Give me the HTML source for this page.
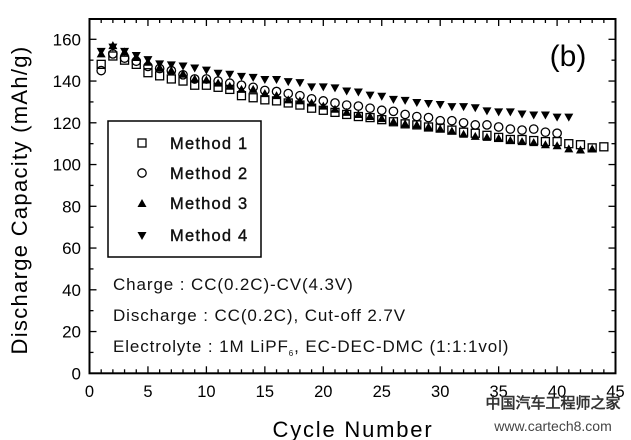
<!DOCTYPE html><html><head><style>body{margin:0;background:#fff}svg{display:block}text{font-family:"Liberation Sans",Arial,sans-serif}</style></head><body>
<svg id="s" width="631" height="440" xmlns="http://www.w3.org/2000/svg">
<rect x="89.5" y="19" width="526" height="354.3" fill="none" stroke="#000" stroke-width="2"/>
<g id="t"></g><g id="d"></g>
<rect x="108" y="121" width="153" height="136" fill="#fff" stroke="#000" stroke-width="1.5"/>
<rect x="138" y="139" width="8" height="8" fill="none" stroke="#000" stroke-width="1.3"/>
<circle cx="142" cy="173" r="4.2" fill="none" stroke="#000" stroke-width="1.3"/>
<path d="M142 199 L146.5 207 L137.5 207Z" fill="#000"/>
<path d="M142 240 L146.5 232 L137.5 232Z" fill="#000"/>
<g font-size="16.5" fill="#111" stroke="#111" stroke-width="0.4" letter-spacing="1.2">
<text x="170" y="149">Method 1</text><text x="170" y="179">Method 2</text><text x="170" y="209">Method 3</text><text x="170" y="241">Method 4</text></g>
<g font-size="17" fill="#111" letter-spacing="0.9">
<text x="113" y="290">Charge : CC(0.2C)-CV(4.3V)</text>
<text x="113" y="321">Discharge : CC(0.2C), Cut-off 2.7V</text>
<text x="113" y="352">Electrolyte : 1M LiPF<tspan font-size="8" dy="4">6</tspan><tspan dy="-4">, EC-DEC-DMC (1:1:1vol)</tspan></text></g>
<text x="568" y="66" font-family="Liberation Serif" font-size="30" text-anchor="middle">(b)</text>
<text transform="translate(27,200) rotate(-90)" font-size="22" text-anchor="middle" letter-spacing="1.3">Discharge Capacity (mAh/g)</text>
<text x="353" y="437" font-size="22" text-anchor="middle" letter-spacing="1.8">Cycle Number</text>
<text x="553" y="408" font-family="Noto Serif CJK SC,serif" font-size="15" fill="#333" text-anchor="middle" font-weight="bold">中国汽车工程师之家</text>
<text x="553" y="431" font-family="Liberation Mono" font-size="14" fill="#444" text-anchor="middle">www.cartech8.com</text>
</svg>
<script>
var X=v=>89.5+v*11.69,Y=v=>373.3-v*2.0875,t='',d='';
for(var i=0;i<=45;i++){var L=i%5?4:7;t+=`<line x1="${X(i)}" x2="${X(i)}" y1="373.3" y2="${373.3-L}" stroke="#000" stroke-width="1.3"/><line x1="${X(i)}" x2="${X(i)}" y1="19" y2="${19+L}" stroke="#000" stroke-width="1.3"/>`;if(i%5==0)t+=`<text x="${X(i)}" y="397" font-size="16.5" text-anchor="middle">${i}</text>`;}
for(var v=0;v<=160;v+=10){var L=v%20?4:7;t+=`<line x1="89.5" x2="${89.5+L}" y1="${Y(v)}" y2="${Y(v)}" stroke="#000" stroke-width="1.3"/><line x1="615.5" x2="${615.5-L}" y1="${Y(v)}" y2="${Y(v)}" stroke="#000" stroke-width="1.3"/>`;if(v%20==0)t+=`<text x="81" y="${Y(v)+6}" font-size="17" text-anchor="end">${v}</text>`;}
var m1=[148,152,150,148,144,142.5,141,140,138,138,137,136,133,132,131,130.5,129.5,128.5,127,126,125,124,123,122.5,121.5,120.5,119.5,119,118,117.5,116.5,115.5,115,114,113,112,112,111.5,111,111,110,109.5,108,108.5];
var m2=[145,153,151,149.5,147,146,145,143,141,141,140,139,138,137,135.5,135,134,133,131.5,130.5,129.5,128.5,128,127,126,125.5,124,123,122.5,121,121,120,119,119,118,117,116.5,117,115.5,115];
var m3=[153,157,154,151.5,149,146.5,145,143.5,141,140.5,139,137.5,136,136,134,133,131,130.5,129.5,128,126.5,125,124,123,122,120.5,119.5,119,118,117,116,114.5,113.5,113,112.5,111.5,111,110.5,109.5,109,107.5,107,107.5];
var m4=[154,156,154,152,150,148,147.5,147,146,145,143.5,143,142,141.5,140.5,140.5,139.5,139,137,137,136.5,135,134.5,133,132.5,131,130.5,129.5,129,128.5,127.5,127.5,127,125.5,125,125,124,123.5,123.5,122.5,122.5];
m4.forEach((v,i)=>{var x=X(i+1),y=Y(v);d+=`<path d="M${x-4.5} ${y-4}L${x+4.5} ${y-4}L${x} ${y+4}Z"/>`});
m3.forEach((v,i)=>{var x=X(i+1),y=Y(v);d+=`<path d="M${x} ${y-4.5}L${x+4.5} ${y+3.5}L${x-4.5} ${y+3.5}Z"/>`});
m2.forEach((v,i)=>{d+=`<circle cx="${X(i+1)}" cy="${Y(v)}" r="4.2" fill="none" stroke="#000" stroke-width="1.3"/>`});
m1.forEach((v,i)=>{d+=`<rect x="${X(i+1)-4}" y="${Y(v)-4}" width="8" height="8" fill="none" stroke="#000" stroke-width="1.3"/>`});
document.getElementById('t').innerHTML=t;document.getElementById('d').innerHTML=d;
</script></body></html>
